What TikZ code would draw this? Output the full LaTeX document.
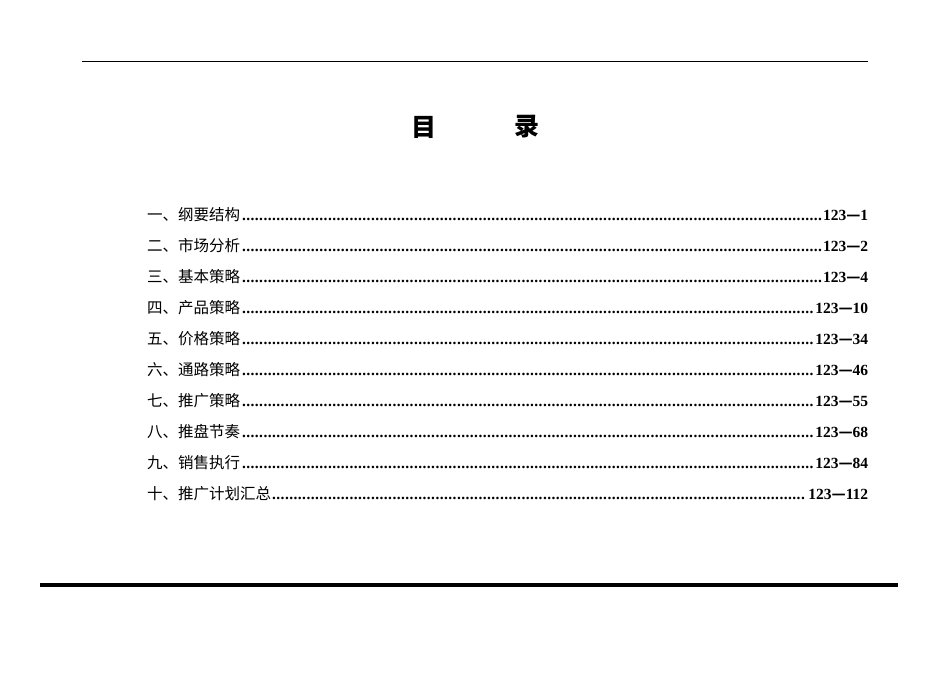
\documentclass[tikz,border=0pt]{standalone}
\usepackage{fontspec}
\setmainfont{Liberation Serif}
\newfontfamily\cjk{Noto Sans CJK SC}
\newcommand{\myleader}{\leaders\hbox to 4.3pt{\hss\textbf{.}\hss}\hfill}
\begin{document}
\begin{tikzpicture}[x=1pt,y=-1pt,
  entry/.style={anchor=west,inner sep=0pt,font=\fontsize{15.5}{16}\selectfont}]
\useasboundingbox (0,0) rectangle (950,672);
\draw[line width=1pt] (82,61) coordinate (tl) -- (868,61) coordinate (tr);
\draw[line width=4pt] (40,585) coordinate (bl) -- (898,585) coordinate (br);
\node[inner sep=0pt,font=\cjk\bfseries\fontsize{25}{26}\selectfont] (t1) at (424,127) {目};
\node[inner sep=0pt,font=\cjk\bfseries\fontsize{25}{26}\selectfont] (t2) at (527,127) {录};
\foreach \i/\lab/\num in {0/一、纲要结构/1,1/二、市场分析/2,2/三、基本策略/4,3/四、产品策略/10,4/五、价格策略/34,5/六、通路策略/46,6/七、推广策略/55,7/八、推盘节奏/68,8/九、销售执行/84,9/十、推广计划汇总/112}{
  \node[entry] (e\i) at (147,215+31*\i) {\makebox[721pt][s]{{\cjk\lab}\myleader\textbf{123{\cjk —}\num}}};
}
\end{tikzpicture}
\end{document}
